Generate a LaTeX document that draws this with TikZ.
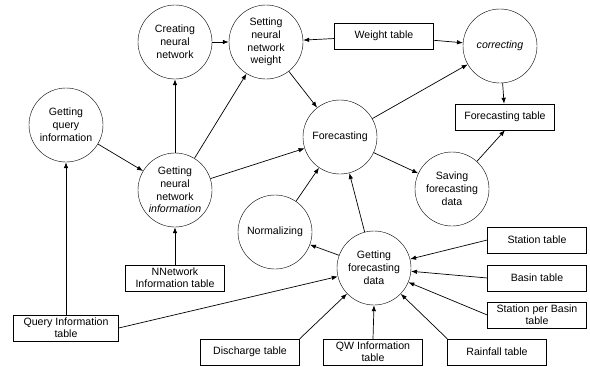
\documentclass[tikz,border=0pt]{standalone}
\usepackage{fontspec}
\setmainfont{Liberation Sans}
\usepackage{tikz}
\usetikzlibrary{arrows.meta, positioning}

\begin{document}
\begin{tikzpicture}[x=1pt, y=-1pt,
    proc/.style={draw, circle, minimum size=74pt, inner sep=0pt, align=center,
                 font=\fontsize{10.6}{12.8}\selectfont},
    tab/.style={draw, rectangle, minimum width=99pt, minimum height=26pt, inner sep=1pt,
                align=center, font=\fontsize{10.6}{12.4}\selectfont},
    flow/.style={line width=0.7pt, -{Latex[length=6pt, width=4.5pt]}}]
    \useasboundingbox (0,0) rectangle (590,367);

    % Processes
    \node[proc] (create) at (175,42) {Creating\\neural\\network};
    \node[proc] (setw) at (266,42) {Setting\\neural\\network\\weight};
    \node[proc] (qinfo) at (66,125) {Getting\\query\\information};
    \node[proc] (nninfo) at (175,190) {Getting\\neural\\network\\\textit{information}};
    \node[proc] (fcast) at (340,137) {Forecasting};
    \node[proc] (corr) at (500,46) {\textit{correcting}};
    \node[proc] (save) at (452,189) {Saving\\forecasting\\data};
    \node[proc] (norm) at (275,232) {Normalizing};
    \node[proc] (fdata) at (374,268) {Getting\\forecasting\\data};

    % Tables
    \node[tab] (wtab) at (384,36) {Weight table};
    \node[tab] (ftab) at (505,117) {Forecasting table};
    \node[tab] (nntab) at (175,278) {NNetwork\\Information table};
    \node[tab, minimum width=105pt] (qtab) at (66,328) {Query Information\\table};
    \node[tab] (distab) at (250,352) {Discharge table};
    \node[tab] (qwtab) at (373,352) {QW Information\\table};
    \node[tab] (raintab) at (497,352) {Rainfall table};
    \node[tab] (sttab) at (537,240) {Station table};
    \node[tab] (batab) at (537,278) {Basin table};
    \node[tab] (spbtab) at (537,315) {Station per Basin\\table};

    % Neural network flows
    \draw[flow] (create) -- (setw);
    \draw[flow] (nninfo) -- (create);
    \draw[flow] (nninfo) -- (setw);
    \draw[flow] (nninfo) -- (fcast);
    \draw[flow] (qinfo) -- (nninfo);
    \draw[flow] (nntab) -- (nninfo);
    \draw[flow] (qtab.north) -- (qinfo.south);
    \draw[flow] (wtab) -- (setw);
    \draw[flow] (wtab) -- (corr);
    \draw[flow] (setw) -- (fcast);

    % Forecasting flows
    \draw[flow] (fcast) -- (corr);
    \draw[flow] (corr) -- (ftab);
    \draw[flow] (fcast) -- (save);
    \draw[flow] (save) -- (ftab.south);
    \draw[flow] (norm) -- (fcast);
    \draw[flow] (fdata) -- (norm);
    \draw[flow] (fdata) -- (fcast);

    % Data tables into forecasting data
    \draw[flow] (qtab.east) -- (fdata);
    \draw[flow] (distab.north east) -- (fdata);
    \draw[flow] (qwtab.north) -- (fdata.south);
    \draw[flow] (raintab.north west) -- (fdata);
    \draw[flow] (spbtab.west) -- (fdata);
    \draw[flow] (batab.west) -- (fdata);
    \draw[flow] (sttab.west) -- (fdata);
\end{tikzpicture}
\end{document}
